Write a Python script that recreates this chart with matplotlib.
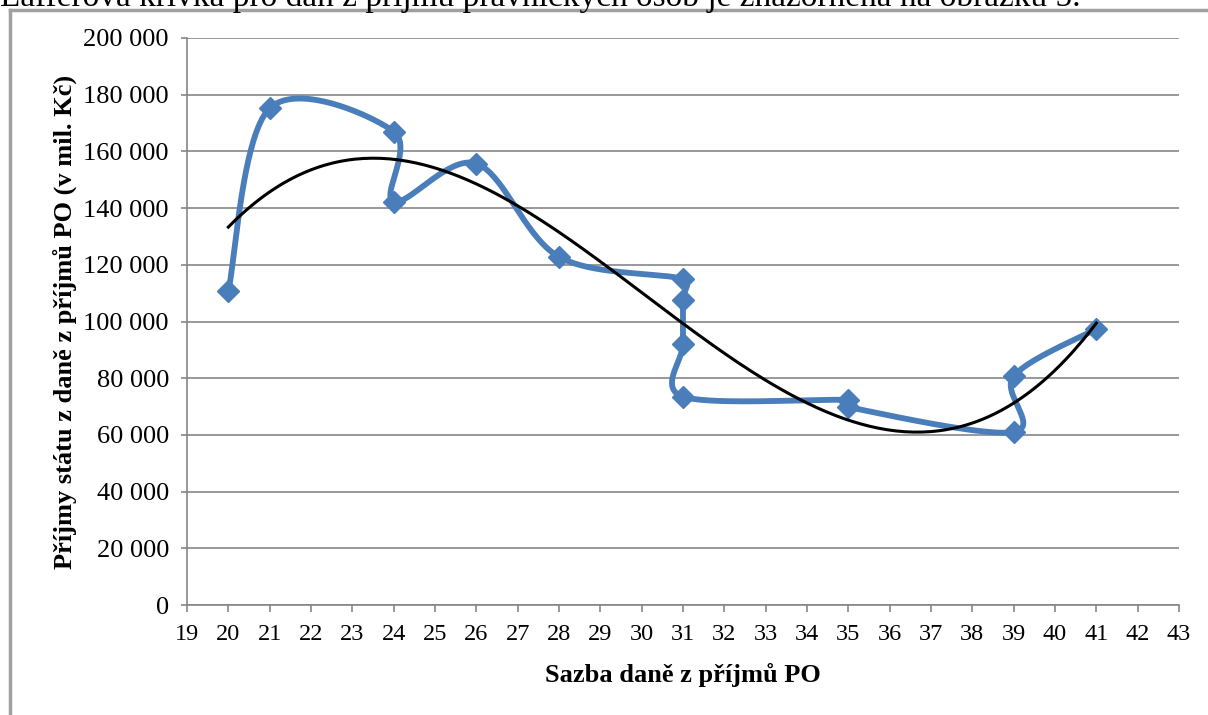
import numpy as np
import matplotlib
matplotlib.use("Agg")
import matplotlib.pyplot as plt
from matplotlib.lines import Line2D
from matplotlib.ticker import FuncFormatter, MultipleLocator

# tax rate (%) and state revenue from corporate income tax (mil. CZK), in time order
rate = [20, 21, 24, 24, 26, 28, 31, 31, 31, 31, 35, 35, 39, 39, 41]
revenue = [110700, 175200, 167000, 142300, 155700, 122800, 114900, 107600,
           92000, 73500, 72300, 69800, 61000, 80700, 97400]

caption = "Lafferova křivka pro daň z příjmů právnických osob je znázorněna na obrázku 5."
xlabel = "Sazba daně z příjmů PO"
ylabel = "Příjmy státu z daně z příjmů PO (v mil. Kč)"

plt.rcParams['font.family'] = ['Liberation Serif', 'DejaVu Serif']

BLUE = "#4a7ebb"
GRAY = "#868686"


def smooth(xs, ys, sx, sy, n=40):
    # bezier smoothing through the points, done in pixel units (sx, sy = px per data unit);
    # control arms are capped at half of the segment length like spreadsheet smoothing
    pts = np.column_stack([np.asarray(xs) * sx, np.asarray(ys) * sy]).astype(float)
    t = np.linspace(0, 1, n)[:, None]
    out = []
    for i in range(len(pts) - 1):
        p0 = pts[max(i - 1, 0)]
        p1 = pts[i]
        p2 = pts[i + 1]
        p3 = pts[min(i + 2, len(pts) - 1)]
        d12 = np.hypot(*(p2 - p1))
        v1 = (p2 - p0) / 6
        v2 = (p3 - p1) / 6
        for v in (v1, v2):
            L = np.hypot(*v)
            if L > d12 / 2:
                v *= d12 / 2 / L
        c1 = p1 + v1
        c2 = p2 - v2
        seg = (1 - t)**3 * p1 + 3 * (1 - t)**2 * t * c1 + 3 * (1 - t) * t**2 * c2 + t**3 * p2
        out.append(seg if i == 0 else seg[1:])
    out = np.vstack(out)
    return out[:, 0] / sx, out[:, 1] / sy


fig = plt.figure(figsize=(12.08, 7.15), dpi=100)
ax = fig.add_axes([187 / 1208, 1 - 605 / 715, (1179 - 187) / 1208, (605 - 38) / 715])

cx, cy = smooth(rate, revenue, 992 / 24, 567 / 200000)
ax.plot(cx, cy, color=BLUE, lw=4.2, solid_capstyle='round', zorder=3)
ax.plot(rate, revenue, ls='none', marker='D', ms=11.5, color=BLUE, zorder=4)

# cubic polynomial trend
coef = np.polyfit(rate, revenue, 3)
xt = np.linspace(min(rate), max(rate), 200)
ax.plot(xt, np.polyval(coef, xt), color='black', lw=2.2, zorder=5)

ax.set_xlim(19, 43)
ax.set_ylim(0, 200000)
ax.xaxis.set_major_locator(MultipleLocator(1))
ax.yaxis.set_major_locator(MultipleLocator(20000))
ax.yaxis.set_major_formatter(FuncFormatter(lambda v, p: f"{v:,.0f}".replace(",", " ")))
ax.grid(axis='y', color=GRAY, lw=1.2)
ax.set_axisbelow(True)

for s in ['top', 'right']:
    ax.spines[s].set_visible(False)
for s in ['left', 'bottom']:
    ax.spines[s].set_color(GRAY)
    ax.spines[s].set_linewidth(1.2)

ax.tick_params(axis='y', direction='out', length=4, width=1.2, color=GRAY, labelsize=19, pad=9)
ax.tick_params(axis='x', direction='out', length=5, width=1.2, color=GRAY, labelsize=17.5, pad=9)

ax.set_xlabel(xlabel, fontsize=19, fontweight='bold', va='center')
ax.set_ylabel(ylabel, fontsize=19, fontweight='bold', va='center')
ax.xaxis.set_label_coords(0.5, -70 / 567)
ax.yaxis.set_label_coords(-122 / 992, 0.5)

# chart area border (only left and top edges are inside the image)
fig.add_artist(Line2D([10 / 1208, 10 / 1208], [0, 1 - 10 / 715], color="#a0a0a0", lw=2.5))
fig.add_artist(Line2D([10 / 1208, 1], [1 - 10 / 715, 1 - 10 / 715], color="#a0a0a0", lw=2.5))

# document text above the chart, cut by the image edge
fig.text(0, 1 - 6 / 715, caption, fontsize=24, va='baseline', ha='left')

fig.savefig("out.png", dpi=100)
